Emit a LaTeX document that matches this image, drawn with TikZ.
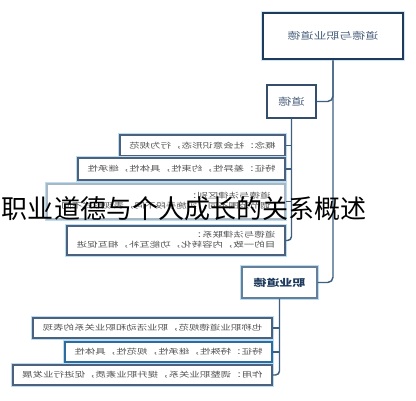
\documentclass[tikz,border=0pt]{standalone}
\usepackage{fontspec}
\setmainfont{Noto Sans CJK SC}
\usepackage{tikz}

\definecolor{navy}{HTML}{1E3A5C}
\definecolor{line}{HTML}{3D5F80}
\definecolor{glow}{HTML}{BBDDF0}
\definecolor{txt}{HTML}{555555}
\definecolor{midblue}{HTML}{2B6CA3}

% mirrored, a bit widened text
\newcommand{\flip}[1]{\scalebox{-1.4}[1]{#1}}
\newcommand{\flipb}[1]{\scalebox{-1.35}[1]{#1}}

\tikzset{
  conn/.style={draw=line, line width=1.1pt, rounded corners=4pt},
  itembox/.style={draw=#1, line width=1pt, fill=white, inner sep=0pt,
    preaction={draw=glow, line width=3pt},
    font=\fontsize{5.6pt}{7.4pt}\selectfont, text=txt},
  itembox/.default=navy!80,
  headbox/.style={draw=#1, line width=1pt, fill=white, inner sep=0pt,
    font=\fontsize{7.4pt}{8pt}\selectfont},
}

\begin{document}
\begin{tikzpicture}[x=0.75pt,y=0.75pt,yscale=-1,xscale=1]
\useasboundingbox (0,0) rectangle (416,400);
\fill[white] (0,0) rectangle (416,400);

%Top box
\node[draw=navy, line width=2.2pt, fill=white, preaction={draw=glow!70, line width=3.4pt},
  minimum width=105pt, minimum height=34.5pt, inner sep=0pt, text=navy!80,
  font=\fontsize{7.2pt}{8pt}\selectfont] (top) at (333,36) {\flipb{道德与职业道德}};

%Headings
\node[headbox=navy!90, minimum width=36.75pt, minimum height=24.75pt, text=navy!80] (moral) at (291.5,101.5) {\flipb{道德}};
\node[headbox=line!80, preaction={draw=glow, line width=3pt}, minimum width=56.25pt, minimum height=23.25pt,
  text=navy, font=\fontsize{7.2pt}{8pt}\selectfont\bfseries] (job) at (279.5,282.5) {\flipb{职业道德}};

%Items under moral
\node[itembox, minimum width=123.75pt, minimum height=15.75pt] (a1) at (202.5,145.5) {\flip{概念：社会意识形态，行为规范}};
\node[itembox, minimum width=155.25pt, minimum height=16.5pt] (a2) at (181.5,169) {\flip{特征：差异性，约束性，具体性，继承性}};
\node[itembox=line!45, minimum width=178.5pt, minimum height=26.25pt] (a3) at (166,201.5)
  {\flip{\begin{tabular}{@{}l@{}}道德与法律区别：\\调节范围不同，实施手段不同，表现形式不同\end{tabular}}};
\node[itembox, minimum width=163.5pt, minimum height=21.75pt] (a4) at (176,240.5)
  {\flip{\begin{tabular}{@{}l@{}}道德与法律联系：\\目的一致，内容转化，功能互补，相互促进\end{tabular}}};

%Items under job
\node[itembox, minimum width=179.25pt, minimum height=15pt] (b1) at (152.5,328) {\flip{也称职业道德规范，职业活动和职业关系的表现}};
\node[itembox=midblue, minimum width=155.25pt, minimum height=15pt] (b2) at (168.5,352) {\flip{特征：特殊性，继承性，规范性，具体性}};
\node[itembox, minimum width=194.25pt, minimum height=15pt] (b3) at (142.5,375) {\flip{作用：调整职业关系，提升职业素质，促进行业发展}};

%Connectors
\draw[conn] (top.south) |- (job.east);
\draw[conn] (moral.east) -| (top.south);
\draw[conn, rounded corners=3pt] (moral.south) |- (a4.east);
\foreach \n in {a1,a2,a3}
  \draw[conn] (\n.east) -- (\n.east -| moral.south);
\draw[conn, rounded corners=3pt] (job.south) |- (b3.east);
\foreach \n in {b1,b2}
  \draw[conn] (\n.east) -- (\n.east -| job.south);

% Text Node
\node[font=\fontsize{19.5pt}{21pt}\selectfont, text=black] (ttl) at (184,209) {职业道德与个人成长的关系概述};

\end{tikzpicture}
\end{document}
